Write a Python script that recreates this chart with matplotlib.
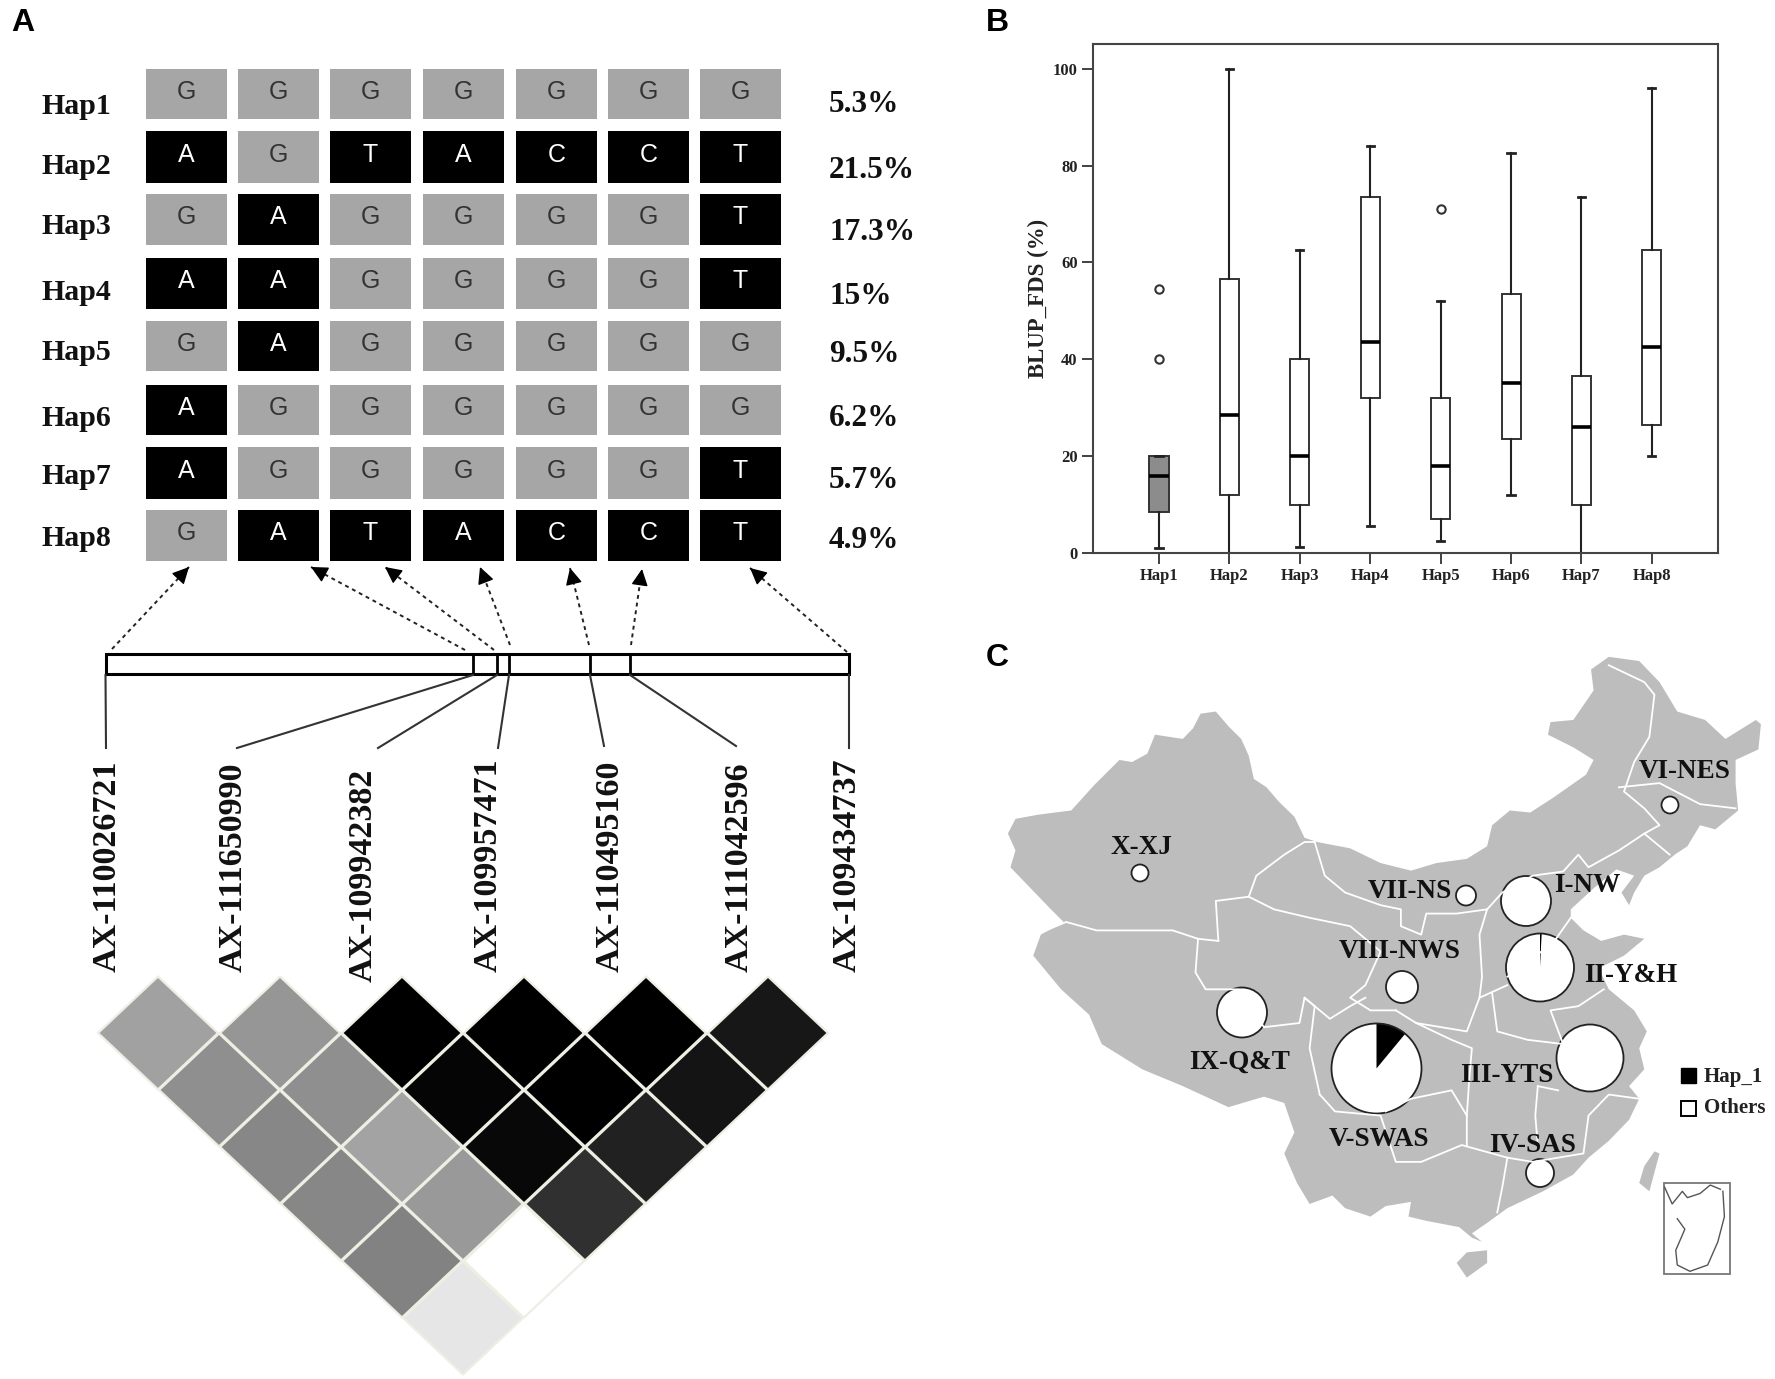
import numpy as np
import matplotlib
matplotlib.use("Agg")
import matplotlib.pyplot as plt
from matplotlib.patches import Rectangle, Polygon
from matplotlib.collections import PolyCollection

SERIF = "Liberation Serif"
SANS = "Liberation Sans"

# panel A haplotypes
hap_names = ["Hap1", "Hap2", "Hap3", "Hap4", "Hap5", "Hap6", "Hap7", "Hap8"]
hap_alleles = ["GGGGGGG", "AGTACCT", "GAGGGGT", "AAGGGGT", "GAGGGGG", "AGGGGGG", "AGGGGGT", "GATACCT"]
hap_freq = ["5.3%", "21.5%", "17.3%", "15%", "9.5%", "6.2%", "5.7%", "4.9%"]
snp_names = ["AX-110026721", "AX-111650990", "AX-109942382", "AX-109957471",
             "AX-110495160", "AX-111042596", "AX-109434737"]
snp_pos = [105.5, 473, 497, 509, 590, 630, 849]

# LD grey levels, one row per distance between markers
ld_grey = [
    [0.63, 0.59, 0.00, 0.00, 0.00, 0.09],
    [0.56, 0.56, 0.02, 0.00, 0.08],
    [0.53, 0.64, 0.03, 0.13],
    [0.53, 0.60, 0.19],
    [0.51, 1.00],
    [0.90],
]

# panel B box stats
box_low = [1, 0, 1.2, 5.5, 2.5, 12, 0, 20]
box_q1 = [8.5, 12, 10, 32, 7, 23.5, 10, 26.5]
box_med = [16, 28.5, 20, 43.5, 18, 35, 26, 42.5]
box_q3 = [20, 56.5, 40, 73.5, 32, 53.5, 36.5, 62.5]
box_high = [20, 100, 62.5, 84, 52, 82.5, 73.5, 96]
box_out = [[40, 54.5], [], [], [], [71], [], [], []]

# panel C regions
region_names = ["X-XJ", "VI-NES", "VII-NS", "I-NW", "II-Y&H", "VIII-NWS", "IX-Q&T", "V-SWAS", "III-YTS", "IV-SAS"]
region_hap1 = [0, 0, 0, 0, 0.008, 0, 0, 0.11, 0, 0]
region_size = [8.5, 8.5, 10, 25, 34, 16, 25, 45, 33.5, 14]
pie_x = [1140, 1670, 1466, 1526, 1540, 1402, 1242, 1376.5, 1590, 1540]
pie_y = [873, 805, 895.5, 901, 967.5, 987, 1012.5, 1068.5, 1058, 1173]
label_x = [1141, 1685, 1410, 1587, 1631, 1400, 1240, 1379, 1507, 1533]
label_y = [848, 772, 891, 885, 976, 952, 1062, 1139, 1075, 1146]

# map outline (map units)
china = [(55,460),(70,425),(115,415),(180,405),(225,345),(275,285),(300,290),(330,270),(345,225),(400,235),
         (420,210),(435,175),(465,170),(490,205),(515,235),(530,275),(540,330),(565,350),(590,385),(620,420),
         (640,470),(665,480),(730,495),(790,530),(850,548),(900,530),(960,520),(1000,490),(1010,440),(1045,405),
         (1085,410),(1130,375),(1195,320),(1210,285),(1170,255),(1120,225),(1125,195),(1170,190),(1210,120),
         (1205,70),(1240,40),(1300,50),(1340,100),(1375,170),(1430,190),(1470,235),(1530,190),(1540,200),
         (1535,260),(1490,285),(1490,340),(1495,405),(1450,450),(1420,440),(1395,490),(1370,510),(1340,540),
         (1310,560),(1290,600),(1280,630),(1265,600),(1290,560),(1255,545),(1210,590),(1165,640),(1165,660),
         (1190,690),(1225,715),(1270,700),(1310,710),(1270,750),(1220,780),(1240,830),(1290,880),(1315,930),
         (1300,970),(1310,1020),(1280,1060),(1300,1090),(1280,1140),(1240,1190),(1200,1230),(1170,1270),
         (1110,1310),(1040,1350),(1000,1385),(970,1410),(990,1430),(970,1420),(945,1395),(880,1380),(845,1370),
         (850,1335),(800,1345),(770,1370),(720,1350),(695,1320),(650,1340),(625,1290),(600,1220),(620,1170),
         (600,1100),(560,1085),(490,1110),(400,1060),(320,1020),(240,960),(215,890),(160,830),(105,750),
         (120,700),(165,670),(140,640),(100,590),(60,540),(70,500)]
hainan = [(940,1480),(960,1455),(1000,1450),(1000,1480),(960,1515)]
taiwan = [(1330,1215),(1340,1220),(1320,1310),(1300,1290),(1310,1250)]
borders = [
    [(120,695),(170,670),(230,690),(300,690),(380,690),(430,710),(470,715)],
    [(470,715),(465,620),(530,610),(545,560),(600,510),(640,480),(660,480)],
    [(660,480),(680,560),(720,600),(790,630),(830,640),(830,680),(870,700),(880,650),(940,650),(1000,640),
     (1030,600),(1090,560),(1150,550),(1180,510),(1200,540),(1260,500),(1310,460),(1340,440),(1310,400),
     (1270,360),(1290,290),(1320,230),(1330,130),(1310,100),(1240,60)],
    [(430,710),(425,790),(445,830),(510,830),(560,920),(630,910),(640,850),(660,870),(650,970),(670,1080)],
    [(640,850),(690,900),(730,870),(760,850)],
    [(530,610),(580,640),(650,660),(730,680),(790,740),(760,820),(730,850),(770,880),(820,880)],
    [(1260,350),(1340,340),(1420,390),(1490,400)],
    [(1310,460),(1360,510)],
    [(1000,640),(985,700),(990,800),(985,850),(1040,820)],
    [(820,880),(860,910),(960,930),(985,850)],
    [(1010,840),(1020,930),(1080,950),(1150,960),(1125,880),(1180,870),(1230,830)],
    [(860,910),(930,950),(970,970),(965,1040),(960,1130),(960,1200)],
    [(800,1120),(850,1090),(930,1070),(960,1130)],
    [(670,1080),(700,1120),(790,1130),(820,1240),(870,1240),(950,1200),(1040,1230),(1090,1240),(1190,1220),
     (1200,1130),(1240,1080),(1300,1090)],
    [(1100,1060),(1095,1130),(1100,1200)],
    [(1100,1060),(1140,1070)],
    [(1040,1230),(1030,1300),(1020,1360)],
    [(1165,660),(1130,720),(1040,800)],
]
inset_line = [(1375,1375),(1390,1400),(1372,1450),(1375,1485),(1400,1500),(1435,1485),(1455,1430),(1468,1370),(1465,1310)]
inset_top = [(1350,1300),(1365,1340),(1385,1310),(1395,1325),(1420,1315),(1440,1295),(1460,1305)]


def to_px(pts):
    # map units -> figure pixels
    pts = np.array(pts, dtype=float)
    return np.column_stack([980 + pts[:, 0] / 1.972, 640 + pts[:, 1] / 2.376])


W, H = 1775, 1379
fig = plt.figure(figsize=(W / 100, H / 100), dpi=100)
ax = fig.add_axes([0, 0, 1, 1])
ax.set_xlim(0, W)
ax.set_ylim(H, 0)
ax.axis("off")

ax.text(11, 23, "A", family=SANS, weight="bold", fontsize=23, va="center")
ax.text(986, 23, "B", family=SANS, weight="bold", fontsize=23, va="center")
ax.text(986, 658, "C", family=SANS, weight="bold", fontsize=23, va="center")

# haplotype table
col_l = [145.5, 237.5, 330, 423, 516, 608, 700]
row_t = [69, 131, 194, 258, 321, 385, 447, 510]
row_b = [119, 183, 245, 309, 371, 435, 499, 561]
lab_y = [107, 166, 227, 293, 352, 418, 476, 538]
pct_y = [105, 170, 232, 297, 354, 419, 480, 541]
for r, name in enumerate(hap_names):
    ax.text(42, lab_y[r], name, family=SERIF, weight="bold", fontsize=21.5, va="center", color="#111111")
    ax.text(829, pct_y[r], hap_freq[r], family=SERIF, weight="bold", fontsize=22.5, va="center", color="#111111")
    for c, base in enumerate(hap_alleles[r]):
        grey = base == "G"
        ax.add_patch(Rectangle((col_l[c], row_t[r]), 81, row_b[r] - row_t[r], lw=0,
                               fc="#a6a6a6" if grey else "black"))
        ax.text(col_l[c] + 40.5, (row_t[r] + row_b[r]) / 2 - 2, base, family=SANS, fontsize=18,
                ha="center", va="center", color="#333333" if grey else "white")

# gene bar and connectors
ax.add_patch(Rectangle((snp_pos[0], 654), snp_pos[-1] - snp_pos[0], 19.5, fc="white", ec="black", lw=2.2))
for p in snp_pos[1:-1]:
    ax.plot([p, p], [654, 673.5], color="black", lw=2)

line_end = [(106, 748), (237, 748), (378, 748), (498, 748), (604, 746), (736, 746), (849, 748)]
arrow_tip = [(189, 567), (311, 567), (385, 567), (480, 567), (570, 568), (642, 569), (750, 568)]
arrow_start = [(112, 649), (465, 650), (494, 650), (510, 645), (589, 645), (631, 645), (847, 652)]
for p, e, tip, st in zip(snp_pos, line_end, arrow_tip, arrow_start):
    ax.plot([p, e[0]], [675, e[1]], color="#333333", lw=1.5)
    ax.plot([st[0], tip[0]], [st[1], tip[1]], color="#222222", lw=1.4, ls=(0, (2, 2)))
    d = np.array(tip, dtype=float) - np.array(st, dtype=float)
    back = np.array(tip) - d / np.hypot(*d) * 14
    ax.annotate("", xy=tip, xytext=back,
                arrowprops=dict(arrowstyle="-|>,head_length=0.6,head_width=0.3", lw=1, color="black",
                                mutation_scale=17, shrinkA=0, shrinkB=0))

snp_x = [107, 233, 363, 488, 610, 739, 847]
snp_bottom = [972, 972, 982, 972, 972, 972, 972]
for name, x, b in zip(snp_names, snp_x, snp_bottom):
    ax.text(x, b, name, family=SERIF, weight="bold", fontsize=24.5, rotation=90,
            ha="center", va="bottom", color="#111111")

# LD triangle
polys, cols = [], []
dx, dy = 60, 56.5
for r, row in enumerate(ld_grey):
    for k, g in enumerate(row):
        cx = 158 + 61 * r + 122 * k
        cy = 1033 + 57 * r
        polys.append([(cx - dx, cy), (cx, cy - dy), (cx + dx, cy), (cx, cy + dy)])
        cols.append(str(g))
ax.add_collection(PolyCollection(polys, facecolors=cols, edgecolors="#eeeee4", linewidths=1.6))

# map
ax.add_patch(Polygon(to_px(china), fc="#bdbdbd", ec="none"))
ax.add_patch(Polygon(to_px(hainan), fc="#bdbdbd", ec="none"))
ax.add_patch(Polygon(to_px(taiwan), fc="#bdbdbd", ec="none"))
for b in borders:
    pts = to_px(b)
    ax.plot(pts[:, 0], pts[:, 1], color="white", lw=1.3)

for name, share, size, px, py, lx, ly in zip(region_names, region_hap1, region_size, pie_x, pie_y, label_x, label_y):
    if share > 0:
        wedges = ax.pie([share, 1 - share], colors=["black", "white"], center=(px, py), radius=size, startangle=-90,
                        frame=True, wedgeprops=dict(lw=0))[0]
        wedges[0].set(edgecolor="black", linewidth=0.8)
    else:
        ax.pie([1], colors=["white"], center=(px, py), radius=size, frame=True, wedgeprops=dict(lw=0))
    ax.add_patch(plt.Circle((px, py), size, fc="none", ec="#222222", lw=1.3))
    ax.text(lx, ly, name, family=SERIF, weight="bold", fontsize=19.5, ha="center", va="center", color="#111111")
ax.set_xlim(0, W)
ax.set_ylim(H, 0)
ax.axis("off")

ax.add_patch(Rectangle((1681, 1068), 15, 15, fc="black", ec="black", lw=1))
ax.add_patch(Rectangle((1681, 1101), 15, 15, fc="white", ec="black", lw=1.4))
ax.text(1704, 1077, "Hap_1", family=SERIF, weight="bold", fontsize=15, va="center", color="#222222")
ax.text(1704, 1108, "Others", family=SERIF, weight="bold", fontsize=15, va="center", color="#222222")

ax.add_patch(Rectangle((1664, 1183), 66, 91, fc="white", ec="#777777", lw=1.3))
for ln in (inset_line, inset_top):
    pts = to_px(ln)
    ax.plot(pts[:, 0], pts[:, 1], color="#555555", lw=1)

# panel B boxplot
bx = fig.add_axes([1093 / W, 1 - 553 / H, 625 / W, 509 / H])
stats = [dict(label=n, whislo=a, q1=b, med=c, q3=d, whishi=e, fliers=f)
         for n, a, b, c, d, e, f in zip(hap_names, box_low, box_q1, box_med, box_q3, box_high, box_out)]
parts = bx.bxp(stats, positions=np.arange(1, 9), widths=0.27, capwidths=0.1, patch_artist=True,
               medianprops=dict(color="black", lw=2.6),
               boxprops=dict(edgecolor="#333333", lw=1.4, facecolor="white"),
               whiskerprops=dict(color="#222222", lw=1.5),
               capprops=dict(color="#222222", lw=2),
               flierprops=dict(marker="o", ms=6, mfc="white", mec="#333333", mew=1.5))
parts["boxes"][0].set_facecolor("#8c8c8c")
bx.set_xlim(0.0625, 8.94)
bx.set_ylim(0, 105.1)
bx.set_yticks(np.arange(0, 101, 20))
bx.tick_params(axis="both", length=8, width=1.3, color="#333333", pad=3)
for t in bx.get_xticklabels() + bx.get_yticklabels():
    t.set(family=SERIF, weight="bold", fontsize=12, color="#222222")
bx.set_ylabel("BLUP_FDS (%)", family=SERIF, weight="bold", fontsize=16.5, color="#222222", labelpad=3)
for s in bx.spines.values():
    s.set_color("#444444")
    s.set_linewidth(1.5)

fig.savefig("out.png", dpi=100)
